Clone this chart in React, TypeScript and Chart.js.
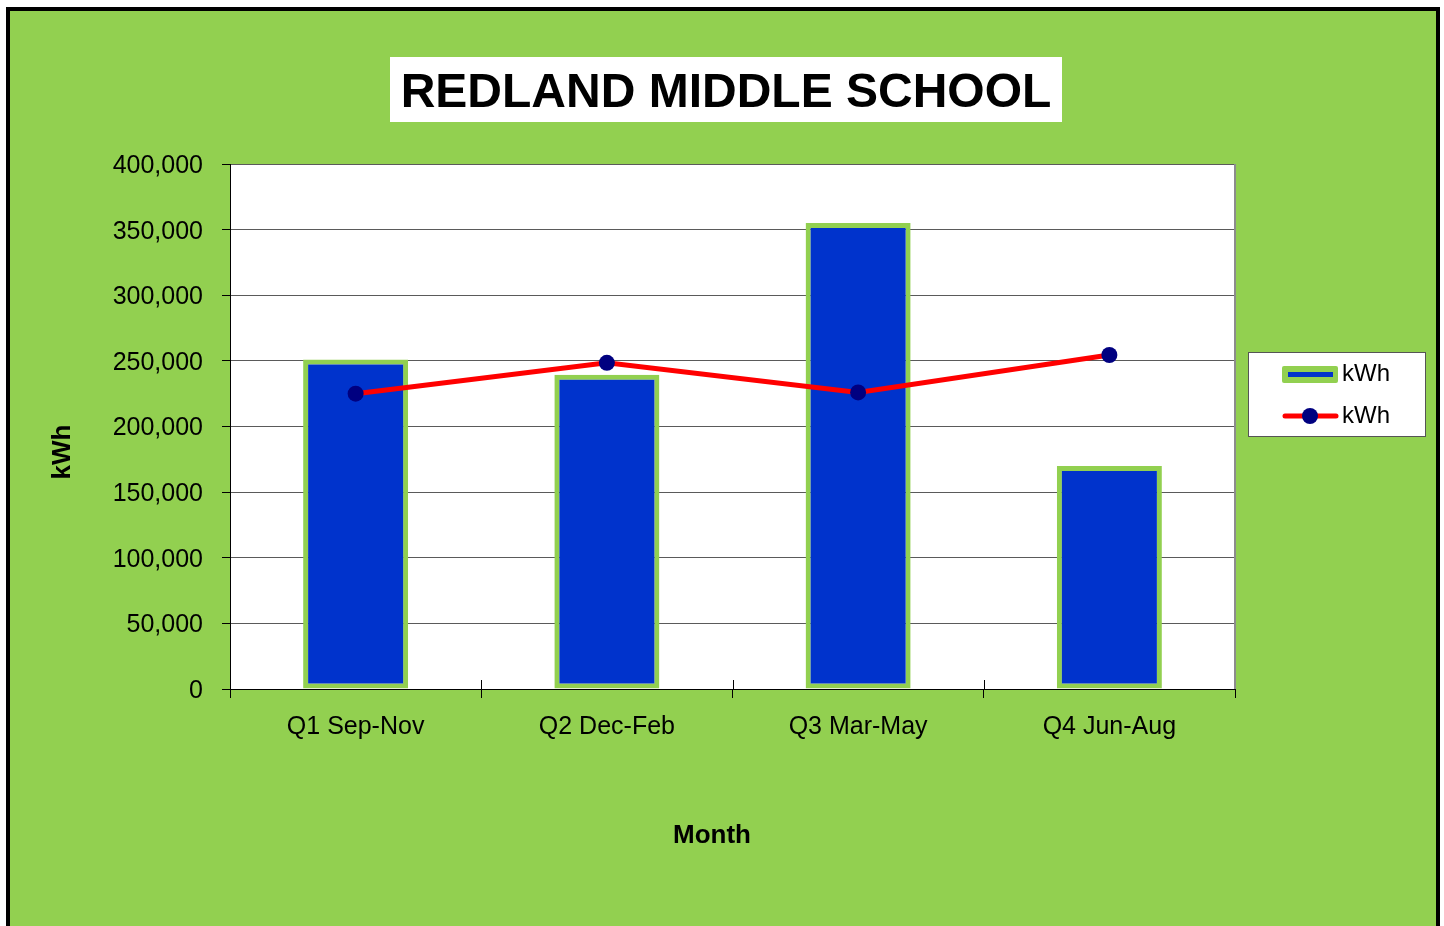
import React, { useEffect, useRef } from "react";
import { Chart, registerables } from "chart.js";

Chart.register(...registerables);

const chartTitle = "REDLAND MIDDLE SCHOOL";
const categories = ["Q1 Sep-Nov", "Q2 Dec-Feb", "Q3 Mar-May", "Q4 Jun-Aug"];
const barValues = [251000, 239500, 355000, 170000];
const lineValues = [225000, 248500, 226000, 254500];
const seriesLabel = "kWh";
const xAxisTitle = "Month";
const yAxisTitle = "kWh";
const yMin = 0;
const yMax = 400000;
const yStep = 50000;

const GREEN = "#92D050";
const BLUE = "#0033CC";
const RED = "#FF0000";
const NAVY = "#000080";
const SANS = '"Liberation Sans", Arial, sans-serif';
const TICKFONT = '"Liberation Sans Narrow", "Arial Narrow", "Liberation Sans", Arial, sans-serif';

const decorPlugin = {
  id: "decor",
  beforeDraw(chart: any) {
    const { ctx, chartArea } = chart;
    ctx.save();
    ctx.fillStyle = "#FFFFFF";
    ctx.fillRect(chartArea.left, chartArea.top, chartArea.right - chartArea.left, chartArea.bottom - chartArea.top);
    ctx.restore();
  },
  afterDatasetsDraw(chart: any) {
    const { ctx, chartArea } = chart;
    ctx.save();
    ctx.strokeStyle = "#8C8C8C";
    ctx.lineWidth = 2;
    ctx.beginPath();
    ctx.moveTo(chartArea.right, chartArea.top);
    ctx.lineTo(chartArea.right, chartArea.bottom);
    ctx.stroke();
    // inner category boundary ticks crossing the axis
    const xs = chart.scales.x;
    const n = categories.length;
    const w = (chartArea.right - chartArea.left) / n;
    ctx.strokeStyle = "#000000";
    ctx.lineWidth = 1;
    for (let i = 1; i < n; i++) {
      const x = Math.round(xs.getPixelForValue(i) - w / 2) + 0.5;
      ctx.beginPath();
      ctx.moveTo(x, chartArea.bottom - 9);
      ctx.lineTo(x, chartArea.bottom);
      ctx.stroke();
    }
    ctx.restore();
  },
  afterDraw(chart: any) {
    const { ctx } = chart;
    ctx.save();
    // Title box
    ctx.fillStyle = "#FFFFFF";
    ctx.fillRect(390, 57, 672, 65);
    ctx.fillStyle = "#000000";
    ctx.font = `bold 48px ${SANS}`;
    ctx.textAlign = "center";
    ctx.textBaseline = "alphabetic";
    ctx.fillText(chartTitle, 726, 107);

    // Axis titles
    ctx.font = `bold 26px ${SANS}`;
    ctx.textBaseline = "middle";
    ctx.fillText(xAxisTitle, 712, 836);
    ctx.save();
    ctx.translate(63, 452);
    ctx.rotate(-Math.PI / 2);
    ctx.fillText(yAxisTitle, 0, 0);
    ctx.restore();

    // Legend
    ctx.fillStyle = "#FFFFFF";
    ctx.fillRect(1248, 352, 178, 85);
    ctx.strokeStyle = "#555555";
    ctx.lineWidth = 1;
    ctx.strokeRect(1248.5, 352.5, 177, 84);
    // bar entry
    ctx.fillStyle = GREEN;
    ctx.beginPath();
    (ctx as any).roundRect ? (ctx as any).roundRect(1282, 366, 56, 17, 2) : ctx.rect(1282, 366, 56, 17);
    ctx.fill();
    ctx.fillStyle = BLUE;
    ctx.fillRect(1288, 372, 45, 5);
    // line entry
    ctx.strokeStyle = RED;
    ctx.lineWidth = 5;
    ctx.lineCap = "round";
    ctx.beginPath();
    ctx.moveTo(1285, 416);
    ctx.lineTo(1336, 416);
    ctx.stroke();
    ctx.fillStyle = NAVY;
    ctx.beginPath();
    ctx.arc(1310, 416, 8, 0, Math.PI * 2);
    ctx.fill();
    ctx.fillStyle = "#000000";
    ctx.font = `24px ${SANS}`;
    ctx.textAlign = "left";
    ctx.textBaseline = "middle";
    ctx.fillText(seriesLabel, 1342, 374);
    ctx.fillText(seriesLabel, 1342, 416);
    ctx.restore();
  },
};

export default function App() {
  const canvasRef = useRef<HTMLCanvasElement | null>(null);

  useEffect(() => {
    const canvas = canvasRef.current;
    if (!canvas) return;
    const chart = new Chart(canvas, {
      type: "bar",
      data: {
        labels: categories,
        datasets: [
          {
            type: "bar",
            label: seriesLabel,
            data: barValues,
            backgroundColor: BLUE,
            borderColor: GREEN,
            borderWidth: 5,
            borderSkipped: false,
            barPercentage: 0.418,
            categoryPercentage: 1,
            order: 2,
          },
          {
            type: "line",
            label: seriesLabel,
            data: lineValues,
            borderColor: RED,
            borderWidth: 5,
            pointBackgroundColor: NAVY,
            pointBorderColor: NAVY,
            pointRadius: 8,
            pointBorderWidth: 0,
            tension: 0,
            order: 1,
          } as any,
        ],
      },
      options: {
        responsive: false,
        animation: false,
        devicePixelRatio: 1,
        layout: { padding: { left: 0, top: 164, right: 209, bottom: 0 } },
        plugins: {
          legend: { display: false },
          title: { display: false },
          tooltip: { enabled: false },
        },
        scales: {
          x: {
            offset: true,
            afterFit(scale: any) {
              scale.height = 926 - 689;
            },
            grid: {
              offset: true,
              drawOnChartArea: false,
              drawTicks: true,
              tickLength: 9,
              tickColor: "#000000",
              color: "#000000",
            },
            border: { display: true, color: "#000000", width: 1 },
            ticks: {
              color: "#000000",
              font: { family: TICKFONT, size: 25 },
              padding: 14,
              maxRotation: 0,
              autoSkip: false,
            },
          },
          y: {
            min: yMin,
            max: yMax,
            afterFit(scale: any) {
              scale.width = 230;
            },
            grid: {
              color: "#5A5A5A",
              lineWidth: 1,
              tickLength: 8,
              tickColor: "#000000",
            },
            border: { display: true, color: "#000000", width: 1 },
            ticks: {
              stepSize: yStep,
              color: "#000000",
              font: { family: TICKFONT, size: 25 },
              padding: 19,
              labelOffset: 2,
              callback: (v: any) => Number(v).toLocaleString("en-US"),
            },
          },
        },
      },
      plugins: [decorPlugin],
    });
    return () => chart.destroy();
  }, []);

  return (
    <div style={{ position: "absolute", left: 0, top: 0, width: 1444, height: 926, overflow: "hidden" }}>
      <div
        style={{
          position: "absolute",
          left: 6,
          top: 7,
          width: 1434,
          height: 1000,
          boxSizing: "border-box",
          border: "4px solid #000000",
          background: GREEN,
        }}
      />
      <canvas
        ref={canvasRef}
        width={1444}
        height={926}
        style={{ position: "absolute", left: 0, top: 0, width: 1444, height: 926 }}
      />
    </div>
  );
}
